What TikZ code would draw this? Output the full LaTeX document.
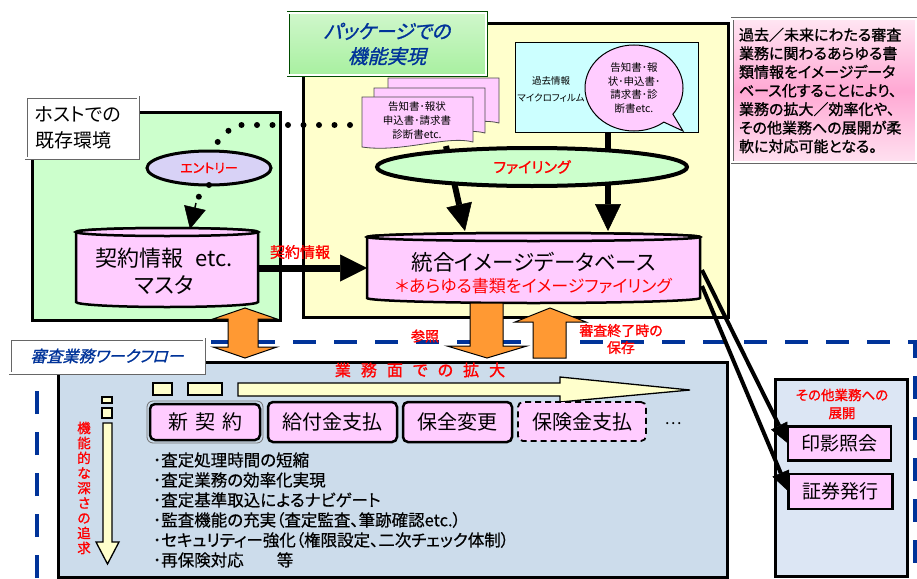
\documentclass[tikz,border=0pt]{standalone}
\usepackage{fontspec}
\setmainfont{Noto Sans CJK JP}[RawFeature=+palt]
\newfontfamily\jpb[FakeBold=1.2,RawFeature=+palt]{Noto Sans CJK JP}
\newfontfamily\jpm[FakeBold=0.5,RawFeature=+palt]{Noto Sans CJK JP}
\newfontfamily\jpbi[FakeBold=1.2,FakeSlant=0.25,RawFeature=+palt]{Noto Sans CJK JP}
\usetikzlibrary{arrows.meta,shapes.geometric,shapes.callouts}
\definecolor{hostgreen}{HTML}{CCFFCC}
\definecolor{pkgyellow}{HTML}{FFFFCC}
\definecolor{docpink}{HTML}{FFCCFF}
\definecolor{entrylav}{HTML}{D8D2F6}
\definecolor{filmcyan}{HTML}{CCFFFF}
\definecolor{wfblue}{HTML}{CCDCEB}
\definecolor{otherblue}{HTML}{DCE6F4}
\definecolor{orangefill}{HTML}{FF9933}
\definecolor{dashblue}{HTML}{003399}
\definecolor{labelblue}{HTML}{003399}
\definecolor{notepink}{HTML}{FF99CC}
\definecolor{pkggreen}{HTML}{A8F0A0}
\begin{document}
\begin{tikzpicture}[x=1pt,y=-1pt,
  every node/.style={inner sep=0pt, outer sep=0pt},
  labelbox/.style={draw=black!60, line width=0.7pt, double=white, double distance=1.6pt},
  heavybox/.style={draw=black, line width=3pt, anchor=north west},
  cylstyle/.style={draw=black, line width=2.5pt, fill=docpink},
  docpage/.style={draw=black!70, line width=0.8pt, fill=docpink},
  orangearrow/.style={draw=black, line width=1pt, fill=orangefill},
  yellowarrow/.style={draw=black, line width=1.3pt, fill=pkgyellow},
  thickarrow/.style={draw=black, line width=6pt, -{Triangle[length=27pt,width=26pt,line width=0.5pt]}},
  sidearrow/.style={draw=black, line width=4pt, -{Triangle[length=20pt,width=18pt,line width=0.5pt]}},
  dotline/.style={draw=black, line width=6pt, line cap=round, dash pattern=on 0pt off 15.5pt},
  funcbox/.style={draw=black, line width=2.5pt, rounded corners=5pt, fill=docpink, minimum height=40pt, font=\fontsize{20}{20}\selectfont},
  redlabel/.style={text=red, font=\jpb\fontsize{14}{17}\selectfont, align=center},
]
\useasboundingbox (0,0) rectangle (917,578);
\fill[white] (0,0) rectangle (917,578);

% dashed workflow frame
\draw[dashblue, line width=4.5pt, dash pattern=on 23pt off 18pt] (37,578) -- (37,342) -- (915,342) -- (915,578);

% host environment
\node[heavybox, fill=hostgreen, minimum width=248pt, minimum height=208pt] (host) at (32,112) {};
\node[labelbox, fill=white, anchor=north west, minimum width=112pt, minimum height=61pt,
      text width=94pt, align=left, font=\fontsize{19}{26}\selectfont] (hostlabel) at (26,97)
  {ホストでの\\既存環境};

% package
\node[heavybox, fill=pkgyellow, minimum width=425pt, minimum height=293pt] (pkg) at (303,24) {};
\node[labelbox, draw=black!70!green, top color=pkggreen!55, bottom color=pkggreen, anchor=north west,
      minimum width=198pt, minimum height=62pt, align=center, text=labelblue,
      font=\jpbi\fontsize{19.5}{25}\selectfont] (pkglabel) at (288,13)
  {パッケージでの\\機能実現};

% note
\node[labelbox, top color=notepink!25, bottom color=notepink!30, middle color=notepink!85,
      anchor=north west, minimum width=184pt, minimum height=143pt,
      text width=170pt, align=left, font=\jpb\fontsize{15}{18.6}\selectfont] (note) at (732,19)
  {過去／未来にわたる審査\\業務に関わるあらゆる書\\類情報をイメージデータ\\ベース化することにより、\\業務の拡大／効率化や、\\その他業務への展開が柔\\軟に対応可能となる。};

% document pages
\draw[docpage] (388,78) -- (499,78) -- (499,123) .. controls (473,116) and (428,134) .. (388,128) -- cycle;
\draw[docpage] (374,88) -- (485,88) -- (485,133) .. controls (459,126) and (414,144) .. (374,138) -- cycle;
\draw[docpage] (362,97) -- (473,97) -- (473,142) .. controls (447,135) and (402,153) .. (362,147) -- cycle;
\node[align=center, font=\fontsize{10.5}{14}\selectfont] (doctxt) at (417,121)
  {告知書･報状\\申込書･請求書\\診断書etc.};
\coordinate (docbot) at (446,146);

% microfilm
\node[draw=black, line width=1pt, fill=filmcyan, anchor=north west, minimum width=183pt, minimum height=89pt] (film) at (515,43) {};
\node[align=center, font=\fontsize{9.5}{17}\selectfont] (filmtxt) at (551,89) {過去情報\\マイクロフィルム};
\node[ellipse callout, draw=black, line width=1pt, fill=docpink, minimum width=98pt, minimum height=86pt,
      callout absolute pointer={(683,131)}, align=center, font=\fontsize{10.5}{13.8}\selectfont] (callout) at (634,88)
  {告知書･報\\状･申込書･\\請求書･診\\断書etc.};
\coordinate (filmbot) at (608,133);

% database
\node[minimum width=333pt, minimum height=66pt] (db) at (533.5,268) {};
\coordinate (dbin1) at (465,231);
\coordinate (dbin2) at (608,231);
\draw[thickarrow] (docbot) -- (dbin1);
\draw[thickarrow] (filmbot) -- (dbin2);
\node[ellipse, draw=black, line width=4pt, fill=hostgreen, minimum width=310pt, minimum height=38pt,
      text=red, font=\jpb\fontsize{15}{15}\selectfont] (filing) at (532,167) {ファイリング};
\draw[cylstyle] (367,237) -- (367,298) arc[start angle=180, end angle=0, x radius=166.5, y radius=5] -- (700,237) arc[start angle=0, end angle=-180, x radius=166.5, y radius=4] -- cycle;
\draw[cylstyle] (533.5,237) ellipse[x radius=166.5, y radius=4];
\node[font=\fontsize{21.5}{21.5}\selectfont] (dbtxt1) at (533.5,262) {統合イメージデータベース};
\node[text=red, font=\fontsize{17}{17}\selectfont] (dbtxt2) at (533.5,286) {＊あらゆる書類をイメージファイリング};

% master
\node[minimum width=182pt, minimum height=75pt] (master) at (167,268) {};
\draw[cylstyle] (76,232) -- (76,302) arc[start angle=180, end angle=0, x radius=91, y radius=5] -- (258,232) arc[start angle=0, end angle=-180, x radius=91, y radius=4] -- cycle;
\draw[cylstyle] (167,232) ellipse[x radius=91, y radius=4];
\node[align=center, font=\fontsize{22}{27}\selectfont] (mastertxt) at (164,271.5) {契約情報\hspace{12pt}etc.\\マスタ};

% entry
\node[ellipse, draw=black, line width=3pt, fill=entrylav, minimum width=124pt, minimum height=34pt,
      text=red, font=\jpb\fontsize{13}{13}\selectfont] (entry) at (209,168) {エントリー};
\coordinate (dotstart) at (350,125);
\coordinate (dotcorner) at (234,125);
\draw[dotline] (dotstart) -- (dotcorner) -- (entry.north);
\draw[dotline] (entry.south) -- (196,200);
\coordinate (entryarr) at (196,203);
\coordinate (masterin) at (190,229);
\draw[draw=black, line width=1.5pt, -{Triangle[length=22pt,width=22pt,line width=0.5pt]}] (entryarr) -- (masterin);

% contract arrow
\draw[draw=black, line width=7pt, -{Triangle[length=27pt,width=27pt,line width=0.5pt]}] (master.east) -- (db.west);
\node[redlabel, font=\jpb\fontsize{15}{15}\selectfont] (contractlbl) at (300,252) {契約情報};

% workflow
\node[heavybox, fill=wfblue, minimum width=669pt, minimum height=215pt] (wf) at (58,362) {};
\node[labelbox, fill=white, anchor=north west, minimum width=194pt, minimum height=34pt,
      text=labelblue, font=\jpbi\fontsize{16}{16}\selectfont] (wflabel) at (10,339) {審査業務ワークフロー};

% orange arrows
\draw[orangearrow] (245,308) -- (277,319) -- (258,319) -- (258,347) -- (277,347) -- (245,358) -- (213,347) -- (228,347) -- (228,319) -- (213,319) -- cycle;
\draw[orangearrow] (470,303) -- (503,303) -- (503,346) -- (527,346) -- (487,358) -- (447,346) -- (470,346) -- cycle;
\draw[orangearrow] (550,308) -- (586,322) -- (566,322) -- (566,358) -- (533,358) -- (533,322) -- (515,322) -- cycle;
\node[redlabel] (refl) at (425,336) {参照};
\node[redlabel] (savel) at (621,339) {審査終了時の\\保存};

% other business
\node[heavybox, fill=otherblue, minimum width=132pt, minimum height=197pt] (other) at (775,379) {};
\node[redlabel, font=\jpb\fontsize{13.5}{18}\selectfont] (othertitle) at (842,404) {その他業務への\\展開};
\node[draw=black, line width=2.5pt, fill=docpink, minimum width=103pt, minimum height=34pt,
      font=\fontsize{19}{19}\selectfont] (inei) at (839.5,443.5) {印影照会};
\node[draw=black, line width=2.5pt, fill=docpink, minimum width=104pt, minimum height=35pt,
      font=\fontsize{19}{19}\selectfont] (shoken) at (840.5,491.5) {証券発行};
\coordinate (dbr1) at (702,270);
\coordinate (dbr2) at (702,286);
\draw[sidearrow] (dbr1) -- (inei.west);
\draw[sidearrow] (dbr2) -- (shoken.west);

% horizontal expansion arrow
\draw[yellowarrow] (153,383) rectangle (172,395);
\draw[yellowarrow] (188,383) rectangle (222,395);
\draw[yellowarrow] (238,383) -- (560,383) -- (560,377) -- (690,390) -- (560,402) -- (560,396) -- (238,396) -- cycle;
\node[text=red, font=\jpb\fontsize{16}{16}\selectfont] (expandl) at (420,370)
  {業\hspace{10pt}務\hspace{10pt}面\hspace{10pt}で\hspace{10pt}の\hspace{10pt}拡\hspace{10pt}大};

% vertical depth arrow
\draw[yellowarrow] (102,397) rectangle (112,403);
\draw[yellowarrow] (102,408) rectangle (112,418);
\draw[yellowarrow] (103,423) -- (112,423) -- (112,542) -- (119,542) -- (107.5,564) -- (96,542) -- (103,542) -- cycle;
\node[text=red, align=center, font=\jpb\fontsize{13.5}{15}\selectfont] (depthl) at (84,488)
  {機\\能\\的\\な\\深\\さ\\の\\追\\求};

% function boxes
\node[funcbox, minimum width=110pt, minimum height=36pt] (shin) at (205,422) {新\hspace{7pt}契\hspace{7pt}約};
\draw[draw=black!55, line width=0.8pt, rounded corners=6pt] ([shift={(-3,-3)}]shin.north west) rectangle ([shift={(3,3)}]shin.south east);
\node[funcbox, minimum width=129pt] (kyufu) at (332.5,422) {給付金支払};
\node[funcbox, minimum width=109pt] (hozen) at (457.5,422) {保全変更};
\node[funcbox, line width=1.8pt, dash pattern=on 6pt off 4pt, minimum width=128pt, minimum height=39pt] (hoken) at (582,421.5) {保険金支払};
\node[font=\fontsize{16}{16}\selectfont] (dots) at (673,424) {…};

% bullet list
\node[anchor=west, align=left, font=\jpm\fontsize{16.5}{20}\selectfont] (bullets) at (153,510)
  {･査定処理時間の短縮\\･査定業務の効率化実現\\･査定基準取込によるナビゲート\\･監査機能の充実（査定監査、筆跡確認etc.）\\･セキュリティー強化（権限設定、二次チェック体制）\\･再保険対応　　等};
\end{tikzpicture}
\end{document}
